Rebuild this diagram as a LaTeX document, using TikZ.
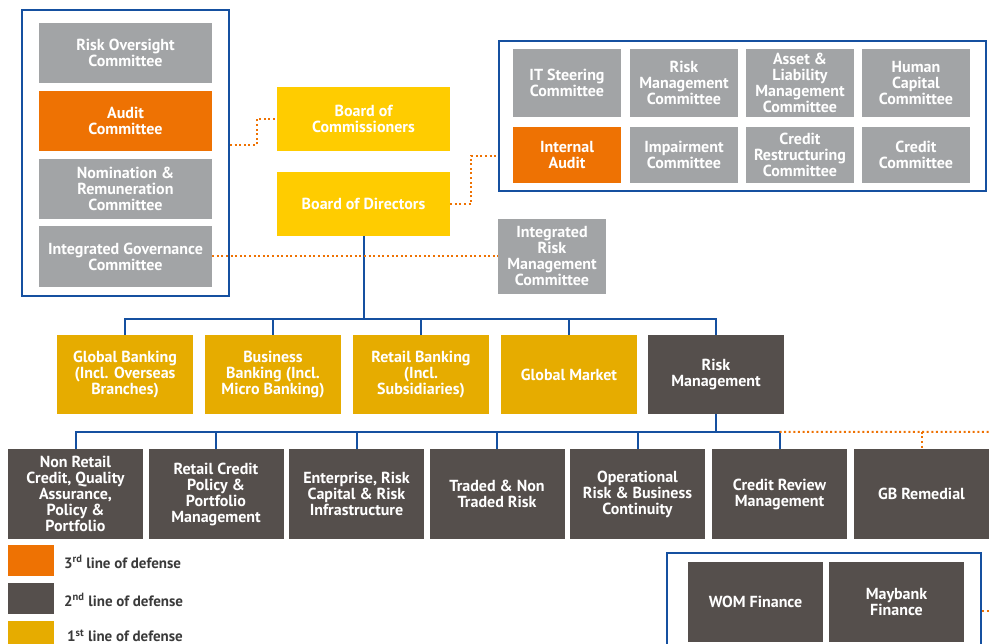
\documentclass[tikz,border=0pt]{standalone}
\usepackage{fontspec}
\setmainfont{PT Sans}
\usetikzlibrary{positioning,calc}

\definecolor{cgrey}{HTML}{A2A4A6}
\definecolor{corange}{HTML}{EE7203}
\definecolor{cyellow}{HTML}{FFCC00}
\definecolor{cgold}{HTML}{E6AC00}
\definecolor{cdark}{HTML}{554F4C}
\definecolor{cblue}{HTML}{1550A0}
\definecolor{ctext}{HTML}{3A3A3A}

\tikzset{
  box/.style={rectangle, inner sep=0pt, align=center, text=white,
    font=\fontsize{16}{16}\selectfont\bfseries},
  greybox/.style={box, fill=cgrey},
  orangebox/.style={box, fill=corange},
  boardbox/.style={box, fill=cyellow},
  goldbox/.style={box, fill=cgold},
  darkbox/.style={box, fill=cdark},
  frame/.style={rectangle, draw=cblue, line width=2pt, inner sep=0pt},
  link/.style={draw=cblue, line width=2pt},
  dots/.style={draw=corange, line width=2pt, dash pattern=on 2pt off 2.6pt},
  legsq/.style={rectangle, inner sep=0pt, minimum width=46pt, minimum height=31pt},
  legtext/.style={anchor=west, inner sep=0pt, text=ctext, font=\fontsize{15}{16}\selectfont\bfseries},
}

\begin{document}
\begin{tikzpicture}[x=1pt,y=-1pt]
\useasboundingbox (0,0) rectangle (989,644);
\clip (0,0) rectangle (989,644);

% board committees
\node[frame, minimum width=207pt, minimum height=286pt] (lframe) at (125.5,153) {};
\node[greybox, minimum width=173pt, minimum height=60pt] (roc) at (125.5,53) {Risk Oversight\\Committee};
\node[orangebox, minimum width=173pt, minimum height=60pt] (audit) at (125.5,121) {Audit\\Committee};
\node[greybox, minimum width=173pt, minimum height=60pt] (nrc) at (125.5,189) {Nomination \&\\Remuneration\\Committee};
\node[greybox, minimum width=173pt, minimum height=61pt] (igc) at (125.5,256.5) {Integrated Governance\\Committee};

% boards
\node[boardbox, minimum width=173pt, minimum height=64pt] (boc) at (363.5,119) {Board of\\Commissioners};
\node[boardbox, minimum width=173pt, minimum height=64pt] (bod) at (363.5,204) {Board of Directors};

% management committees
\node[frame, minimum width=487pt, minimum height=150pt] (rframe) at (742.5,116) {};
\node[greybox, minimum width=108pt, minimum height=68pt] (itsc) at (567,83) {IT Steering\\Committee};
\node[greybox, minimum width=108pt, minimum height=68pt] (rmc) at (684,83) {Risk\\Management\\Committee};
\node[greybox, minimum width=108pt, minimum height=68pt] (alco) at (800,83) {Asset \&\\Liability\\Management\\Committee};
\node[greybox, minimum width=108pt, minimum height=68pt] (hcc) at (916,83) {Human\\Capital\\Committee};
\node[orangebox, minimum width=108pt, minimum height=56pt] (ia) at (567,155) {Internal\\Audit};
\node[greybox, minimum width=108pt, minimum height=56pt] (imp) at (684,155) {Impairment\\Committee};
\node[greybox, minimum width=108pt, minimum height=56pt] (crc) at (800,155) {Credit\\Restructuring\\Committee};
\node[greybox, minimum width=108pt, minimum height=56pt] (cc) at (916,155) {Credit\\Committee};

\node[greybox, minimum width=108pt, minimum height=75pt] (irmc) at (552,256.5) {Integrated\\Risk\\Management\\Committee};

% business units
\node[goldbox, minimum width=136pt, minimum height=79pt] (gbk) at (125,374.5) {Global Banking\\(Incl. Overseas\\Branches)};
\node[goldbox, minimum width=136pt, minimum height=79pt] (bbk) at (273,374.5) {Business\\Banking (Incl.\\Micro Banking)};
\node[goldbox, minimum width=136pt, minimum height=79pt] (rbk) at (421,374.5) {Retail Banking\\(Incl.\\Subsidiaries)};
\node[goldbox, minimum width=136pt, minimum height=79pt] (gm) at (569,374.5) {Global Market};
\node[darkbox, minimum width=136pt, minimum height=79pt] (rm) at (716,374.5) {Risk\\Management};

% risk management units
\node[darkbox, minimum width=135pt, minimum height=90pt] (nrcq) at (75.5,494) {Non Retail\\Credit, Quality\\Assurance,\\Policy \&\\Portfolio};
\node[darkbox, minimum width=135pt, minimum height=90pt] (rcp) at (216,494) {Retail Credit\\Policy \&\\Portfolio\\Management};
\node[darkbox, minimum width=135pt, minimum height=90pt] (erc) at (356.5,494) {Enterprise, Risk\\Capital \& Risk\\Infrastructure};
\node[darkbox, minimum width=135pt, minimum height=90pt] (tnt) at (497,494) {Traded \& Non\\Traded Risk};
\node[darkbox, minimum width=135pt, minimum height=90pt] (orbc) at (637.5,494) {Operational\\Risk \& Business\\Continuity};
\node[darkbox, minimum width=135pt, minimum height=90pt] (crm) at (779.5,494) {Credit Review\\Management};
\node[darkbox, minimum width=135pt, minimum height=90pt] (gbr) at (921.5,494) {GB Remedial};

% subsidiaries
\node[frame, minimum width=314pt, minimum height=99pt] (wframe) at (824,602.5) {};
\node[darkbox, minimum width=135pt, minimum height=80pt] (wom) at (755.5,602) {WOM Finance};
\node[darkbox, minimum width=135pt, minimum height=80pt] (mbf) at (896.5,602) {Maybank\\Finance};

% legend
\node[legsq, fill=corange] (lg3) at (31,560.5) {};
\node[legsq, fill=cdark] (lg2) at (31,598.5) {};
\node[legsq, fill=cgold] (lg1) at (31,636.5) {};
\node[legtext] (lt3) at (64,562) {3\textsuperscript{rd} line of defense};
\node[legtext] (lt2) at (64,600) {2\textsuperscript{nd} line of defense};
\node[legtext] (lt1) at (67,636) {1\textsuperscript{st} line of defense};

% reporting lines
\coordinate (bus1) at ([yshift=16pt]gbk.north);
\draw[link] (bod.south) -- (bod.south |- bus1);
\draw[link] (gbk.north) -- (bus1) -| (rm.north);
\foreach \n in {bbk,rbk,gm} \draw[link] (\n.north) -- ++(0,-16);

\coordinate (bus2) at ([yshift=17pt]nrcq.north);
\draw[link] (rm.south) -- (rm.south |- bus2);
\draw[link] (nrcq.north) -- (bus2) -| (crm.north);
\foreach \n in {rcp,erc,tnt,orbc} \draw[link] (\n.north) -- ++(0,-17);

% dotted links
\draw[dots] ([yshift=-24pt]audit.east -| lframe.east) -- ++(27,0) |- (boc.west);
\draw[dots] (bod.east) -- ++(21,0) |- ([yshift=-40pt]rframe.west);
\draw[dots] (igc.east) -- (irmc.west);
\coordinate (gbend) at (989,432);
\draw[dots] (crm.north |- bus2) -- (gbend);
\draw[dots] (gbr.north |- bus2) -- (gbr.north);
\coordinate (wend) at (989,611);
\draw[dots] ([yshift=-8.5pt]wframe.east) -- (wend);
\end{tikzpicture}
\end{document}
